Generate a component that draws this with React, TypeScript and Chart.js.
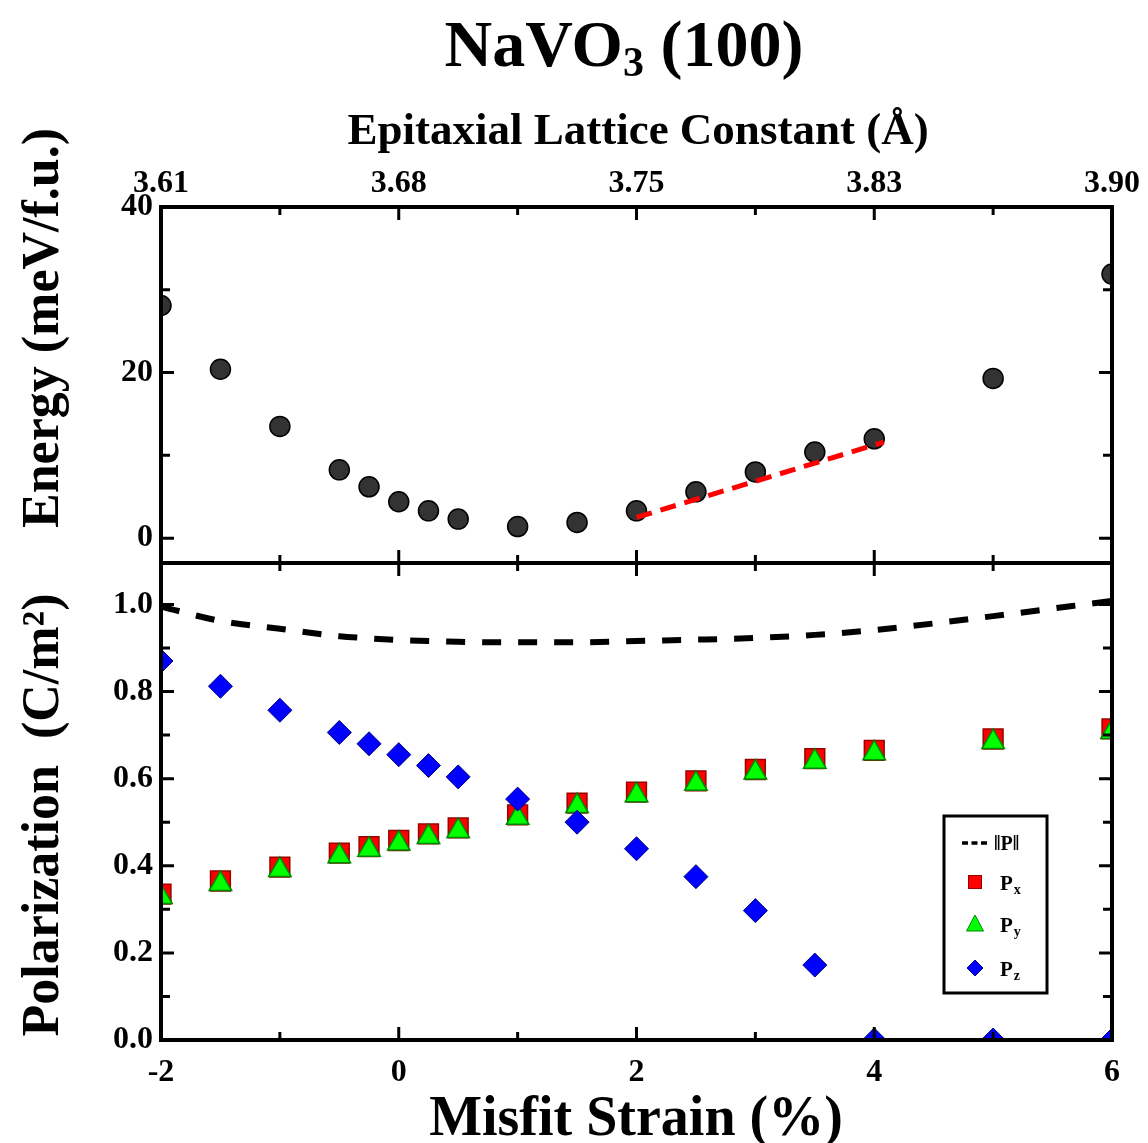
import React, { useEffect, useRef } from 'react';
import { Chart, registerables } from 'chart.js';

Chart.register(...registerables);

// ---------- data ----------
const STRAIN = [-2, -1.5, -1, -0.5, -0.25, 0, 0.25, 0.5, 1, 1.5, 2, 2.5, 3, 3.5, 4, 5, 6];
const ENERGY = [28.1, 20.4, 13.5, 8.25, 6.2, 4.4, 3.3, 2.3, 1.4, 1.9, 3.3, 5.6, 8.0, 10.4, 12.0, 19.3, 31.9];
const FIT_X = [2, 4.08];
const FIT_Y = [2.5, 11.6];
const P_NORM = [0.995, 0.962, 0.944, 0.927, 0.922, 0.918, 0.916, 0.914, 0.913, 0.913, 0.916, 0.919, 0.923, 0.930, 0.941, 0.973, 1.008];
const PX = [0.335, 0.365, 0.397, 0.429, 0.444, 0.458, 0.473, 0.487, 0.517, 0.544, 0.569, 0.595, 0.621, 0.646, 0.665, 0.691, 0.714];
const PY = [0.328, 0.358, 0.390, 0.422, 0.437, 0.451, 0.466, 0.480, 0.510, 0.537, 0.562, 0.588, 0.614, 0.639, 0.658, 0.684, 0.707];
const PZ = [0.870, 0.812, 0.757, 0.706, 0.680, 0.655, 0.630, 0.604, 0.553, 0.500, 0.439, 0.375, 0.297, 0.172, 0, 0, 0];

const X_TICKS = [-2, -1, 0, 1, 2, 3, 4, 5, 6];
const X_LABELS = ['-2', '', '0', '', '2', '', '4', '', '6'];
const TOP_LABELS = ['3.61', '', '3.68', '', '3.75', '', '3.83', '', '3.90'];
const E_TICKS = [0, 10, 20, 30, 40];
const E_LABELS = ['0', '', '20', '', '40'];
const P_TICKS = [0, 0.1, 0.2, 0.3, 0.4, 0.5, 0.6, 0.7, 0.8, 0.9, 1.0];
const P_LABELS = ['0.0', '', '0.2', '', '0.4', '', '0.6', '', '0.8', '', '1.0'];

const TITLE = 'NaVO';
const TITLE_SUB = '3';
const TITLE_TAIL = ' (100)';
const TOP_TITLE = 'Epitaxial Lattice Constant (Å)';
const BOTTOM_TITLE = 'Misfit Strain (%)';
const E_TITLE = 'Energy (meV/f.u.)';
const P_TITLE = 'Polarization  (C/m²)';
const LEGEND_NAMES = ['‖P‖', 'P', 'P', 'P'];
const LEGEND_SUBS = ['', 'x', 'y', 'z'];

const FONT = '"Liberation Serif", "Times New Roman", serif';
const W = 1148;
const PLOT_LEFT = 161;
const PLOT_RIGHT = 1112;
const TOP1 = 207;
const MID = 563;
const BOTTOM2 = 1040;
const C1_H = 570;
const C2_TOP = 556;
const C2_H = 1143 - C2_TOP;

const pts = (xs: number[], ys: number[]) => xs.map((x, i) => ({ x, y: ys[i] }));

const zeroPad = (s: any) => {
  s.paddingTop = 0;
  s.paddingBottom = 0;
  s.paddingLeft = 0;
  s.paddingRight = 0;
};

function drawFrameAndTicks(chart: any, xId: string, yId: string) {
  const ctx = chart.ctx;
  const a = chart.chartArea;
  const xs = chart.scales[xId];
  const ys = chart.scales[yId];
  ctx.save();
  ctx.strokeStyle = '#000';
  ctx.lineWidth = 3;
  ctx.beginPath();
  xs.ticks.forEach((t: any) => {
    const px = xs.getPixelForValue(t.value);
    const len = t.label ? 13 : 8;
    ctx.moveTo(px, a.top);
    ctx.lineTo(px, a.top + len);
    ctx.moveTo(px, a.bottom);
    ctx.lineTo(px, a.bottom - len);
  });
  ys.ticks.forEach((t: any) => {
    const py = ys.getPixelForValue(t.value);
    const len = t.label ? 13 : 9;
    ctx.moveTo(a.left, py);
    ctx.lineTo(a.left + len, py);
    ctx.moveTo(a.right, py);
    ctx.lineTo(a.right - len, py);
  });
  ctx.stroke();
  ctx.lineWidth = 4;
  ctx.strokeRect(a.left, a.top, a.right - a.left, a.bottom - a.top);
  ctx.restore();
}

function drawRotated(ctx: any, text: string, x: number, y: number, size: number) {
  ctx.save();
  ctx.translate(x, y);
  ctx.rotate(-Math.PI / 2);
  ctx.font = `bold ${size}px ${FONT}`;
  ctx.fillStyle = '#000';
  ctx.textAlign = 'center';
  ctx.textBaseline = 'alphabetic';
  ctx.fillText(text, 0, 0);
  ctx.restore();
}

const topPlugin = {
  id: 'topDecor',
  afterDatasetsDraw(chart: any) {
    drawFrameAndTicks(chart, 'xTop', 'y');
    const ctx = chart.ctx;
    ctx.save();
    ctx.fillStyle = '#000';
    ctx.textBaseline = 'alphabetic';
    const big = `bold 66px ${FONT}`;
    const small = `bold 42px ${FONT}`;
    ctx.font = big;
    const w1 = ctx.measureText(TITLE).width;
    const w3 = ctx.measureText(TITLE_TAIL).width;
    ctx.font = small;
    const w2 = ctx.measureText(TITLE_SUB).width;
    let x = 624 - (w1 + w2 + w3) / 2;
    const base = 66;
    ctx.textAlign = 'left';
    ctx.font = big;
    ctx.fillText(TITLE, x, base);
    x += w1;
    ctx.font = small;
    ctx.fillText(TITLE_SUB, x, base + 10);
    x += w2;
    ctx.font = big;
    ctx.fillText(TITLE_TAIL, x, base);
    ctx.textAlign = 'center';
    ctx.font = `bold 45px ${FONT}`;
    ctx.fillText(TOP_TITLE, 638, 144);
    ctx.restore();
    drawRotated(ctx, E_TITLE, 58, 328, 52);
  },
};

const bottomPlugin = {
  id: 'bottomDecor',
  afterDatasetsDraw(chart: any) {
    drawFrameAndTicks(chart, 'x', 'y');
    const ctx = chart.ctx;
    const off = C2_TOP;
    ctx.save();
    ctx.fillStyle = '#000';
    ctx.textAlign = 'center';
    ctx.textBaseline = 'alphabetic';
    ctx.font = `bold 56px ${FONT}`;
    ctx.fillText(BOTTOM_TITLE, 636, 1135 - off);
    ctx.restore();
    drawRotated(ctx, P_TITLE, 58, 815 - off, 52);

    // legend
    ctx.save();
    ctx.strokeStyle = '#000';
    ctx.lineWidth = 3;
    ctx.fillStyle = '#fff';
    ctx.fillRect(944, 816 - off, 103, 177);
    ctx.strokeRect(944, 816 - off, 103, 177);
    const rows = [843, 882, 924, 968].map((v) => v - off);
    const sx = 975;
    ctx.lineWidth = 3.5;
    ctx.setLineDash([6, 3.5]);
    ctx.beginPath();
    ctx.moveTo(962, rows[0]);
    ctx.lineTo(989, rows[0]);
    ctx.stroke();
    ctx.setLineDash([]);
    ctx.lineWidth = 1;
    ctx.fillStyle = '#ff0000';
    ctx.strokeStyle = '#990000';
    ctx.fillRect(sx - 6.5, rows[1] - 6.5, 13, 13);
    ctx.strokeRect(sx - 6.5, rows[1] - 6.5, 13, 13);
    ctx.fillStyle = '#00ff00';
    ctx.strokeStyle = '#008800';
    ctx.beginPath();
    ctx.moveTo(sx, rows[2] - 9);
    ctx.lineTo(sx + 8.5, rows[2] + 7);
    ctx.lineTo(sx - 8.5, rows[2] + 7);
    ctx.closePath();
    ctx.fill();
    ctx.stroke();
    ctx.fillStyle = '#0000ff';
    ctx.strokeStyle = '#000080';
    ctx.beginPath();
    ctx.moveTo(sx, rows[3] - 8);
    ctx.lineTo(sx + 8, rows[3]);
    ctx.lineTo(sx, rows[3] + 8);
    ctx.lineTo(sx - 8, rows[3]);
    ctx.closePath();
    ctx.fill();
    ctx.stroke();
    ctx.fillStyle = '#000';
    ctx.textAlign = 'left';
    ctx.textBaseline = 'alphabetic';
    ctx.font = `bold 20px ${FONT}`;
    ctx.fillText(LEGEND_NAMES[0], 994, rows[0] + 7);
    for (let i = 1; i < 4; i++) {
      ctx.font = `bold 21px ${FONT}`;
      ctx.fillText(LEGEND_NAMES[i], 1000, rows[i] + 8);
      const pw = ctx.measureText(LEGEND_NAMES[i]).width;
      ctx.font = `bold 14px ${FONT}`;
      ctx.fillText(LEGEND_SUBS[i], 1000 + pw + 1, rows[i] + 12);
    }
    ctx.restore();
  },
};

const tickFont = { family: 'Liberation Serif', size: 32, weight: 'bold' as const };

export default function App() {
  const ref1 = useRef<HTMLCanvasElement>(null);
  const ref2 = useRef<HTMLCanvasElement>(null);

  useEffect(() => {
    const c1 = new Chart(ref1.current!, {
      type: 'scatter',
      data: {
        datasets: [
          {
            data: pts(FIT_X, FIT_Y),
            showLine: true,
            borderColor: '#ff0000',
            borderWidth: 5,
            borderDash: [16, 9],
            pointRadius: 0,
            xAxisID: 'x',
            yAxisID: 'y',
          },
          {
            data: pts(STRAIN, ENERGY),
            pointStyle: 'circle',
            pointRadius: 10,
            backgroundColor: '#333333',
            borderColor: '#000',
            borderWidth: 1.5,
            xAxisID: 'x',
            yAxisID: 'y',
          },
        ],
      },
      options: {
        responsive: false,
        animation: false,
        devicePixelRatio: 1,
        events: [],
        layout: { autoPadding: false, padding: { left: 0, right: W - PLOT_RIGHT, top: 0, bottom: C1_H - MID } },
        plugins: { legend: { display: false }, tooltip: { enabled: false }, title: { display: false } },
        scales: {
          x: { type: 'linear', min: -2, max: 6, display: false },
          xTop: {
            type: 'linear',
            position: 'top',
            min: -2,
            max: 6,
            afterBuildTicks: (s: any) => {
              s.ticks = X_TICKS.map((v) => ({ value: v }));
            },
            afterFit: (s: any) => {
              s.height = TOP1;
              zeroPad(s);
            },
            ticks: {
              autoSkip: false,
              maxRotation: 0,
              padding: 4,
              color: '#000',
              font: tickFont,
              callback: (v: any) => TOP_LABELS[X_TICKS.indexOf(Number(v))] ?? '',
            },
            grid: { display: false, drawTicks: false },
            border: { display: false },
          },
          y: {
            type: 'linear',
            position: 'left',
            min: -3,
            max: 40,
            afterBuildTicks: (s: any) => {
              s.ticks = E_TICKS.map((v) => ({ value: v }));
            },
            afterFit: (s: any) => {
              s.width = PLOT_LEFT;
              zeroPad(s);
            },
            ticks: {
              autoSkip: false,
              padding: 8,
              color: '#000',
              font: tickFont,
              callback: (v: any) => E_LABELS[E_TICKS.indexOf(Number(v))] ?? '',
            },
            grid: { display: false, drawTicks: false },
            border: { display: false },
          },
        },
      } as any,
      plugins: [topPlugin],
    });

    const c2 = new Chart(ref2.current!, {
      type: 'scatter',
      data: {
        datasets: [
          {
            label: 'Pz',
            data: pts(STRAIN, PZ),
            pointStyle: 'rectRot',
            pointRadius: 12,
            backgroundColor: '#0000ff',
            borderColor: '#000080',
            borderWidth: 1,
          },
          {
            label: 'Py',
            data: pts(STRAIN, PY),
            pointStyle: 'triangle',
            pointRadius: 13,
            backgroundColor: '#00ff00',
            borderColor: '#008800',
            borderWidth: 1.5,
          },
          {
            label: 'Px',
            data: pts(STRAIN, PX),
            pointStyle: 'rect',
            pointRadius: 14,
            backgroundColor: '#ff0000',
            borderColor: '#990000',
            borderWidth: 1.5,
          },
          {
            label: '|P|',
            data: pts(STRAIN, P_NORM),
            showLine: true,
            cubicInterpolationMode: 'monotone',
            borderColor: '#000',
            borderWidth: 6,
            borderDash: [19, 17],
            pointRadius: 0,
          },
        ],
      },
      options: {
        responsive: false,
        animation: false,
        devicePixelRatio: 1,
        events: [],
        layout: { autoPadding: false, padding: { left: 0, right: W - PLOT_RIGHT, top: MID - C2_TOP, bottom: 0 } },
        plugins: { legend: { display: false }, tooltip: { enabled: false }, title: { display: false } },
        scales: {
          x: {
            type: 'linear',
            position: 'bottom',
            min: -2,
            max: 6,
            afterBuildTicks: (s: any) => {
              s.ticks = X_TICKS.map((v) => ({ value: v }));
            },
            afterFit: (s: any) => {
              s.height = C2_TOP + C2_H - BOTTOM2;
              zeroPad(s);
            },
            ticks: {
              autoSkip: false,
              maxRotation: 0,
              padding: 14,
              color: '#000',
              font: tickFont,
              callback: (v: any) => X_LABELS[X_TICKS.indexOf(Number(v))] ?? '',
            },
            grid: { display: false, drawTicks: false },
            border: { display: false },
          },
          y: {
            type: 'linear',
            position: 'left',
            min: 0,
            max: 1.095,
            afterBuildTicks: (s: any) => {
              s.ticks = P_TICKS.map((v) => ({ value: v }));
            },
            afterFit: (s: any) => {
              s.width = PLOT_LEFT;
              zeroPad(s);
            },
            ticks: {
              autoSkip: false,
              padding: 8,
              color: '#000',
              font: tickFont,
              callback: (v: any) => {
                const i = P_TICKS.findIndex((t) => Math.abs(t - Number(v)) < 1e-9);
                return i >= 0 ? P_LABELS[i] : '';
              },
            },
            grid: { display: false, drawTicks: false },
            border: { display: false },
          },
        },
      } as any,
      plugins: [bottomPlugin],
    });

    return () => {
      c1.destroy();
      c2.destroy();
    };
  }, []);

  return (
    <div style={{ position: 'absolute', left: 0, top: 0, width: W, height: 1143, background: '#fff', overflow: 'hidden' }}>
      <canvas ref={ref1} width={W} height={C1_H} style={{ position: 'absolute', left: 0, top: 0, width: W, height: C1_H }} />
      <canvas ref={ref2} width={W} height={C2_H} style={{ position: 'absolute', left: 0, top: C2_TOP, width: W, height: C2_H }} />
    </div>
  );
}
